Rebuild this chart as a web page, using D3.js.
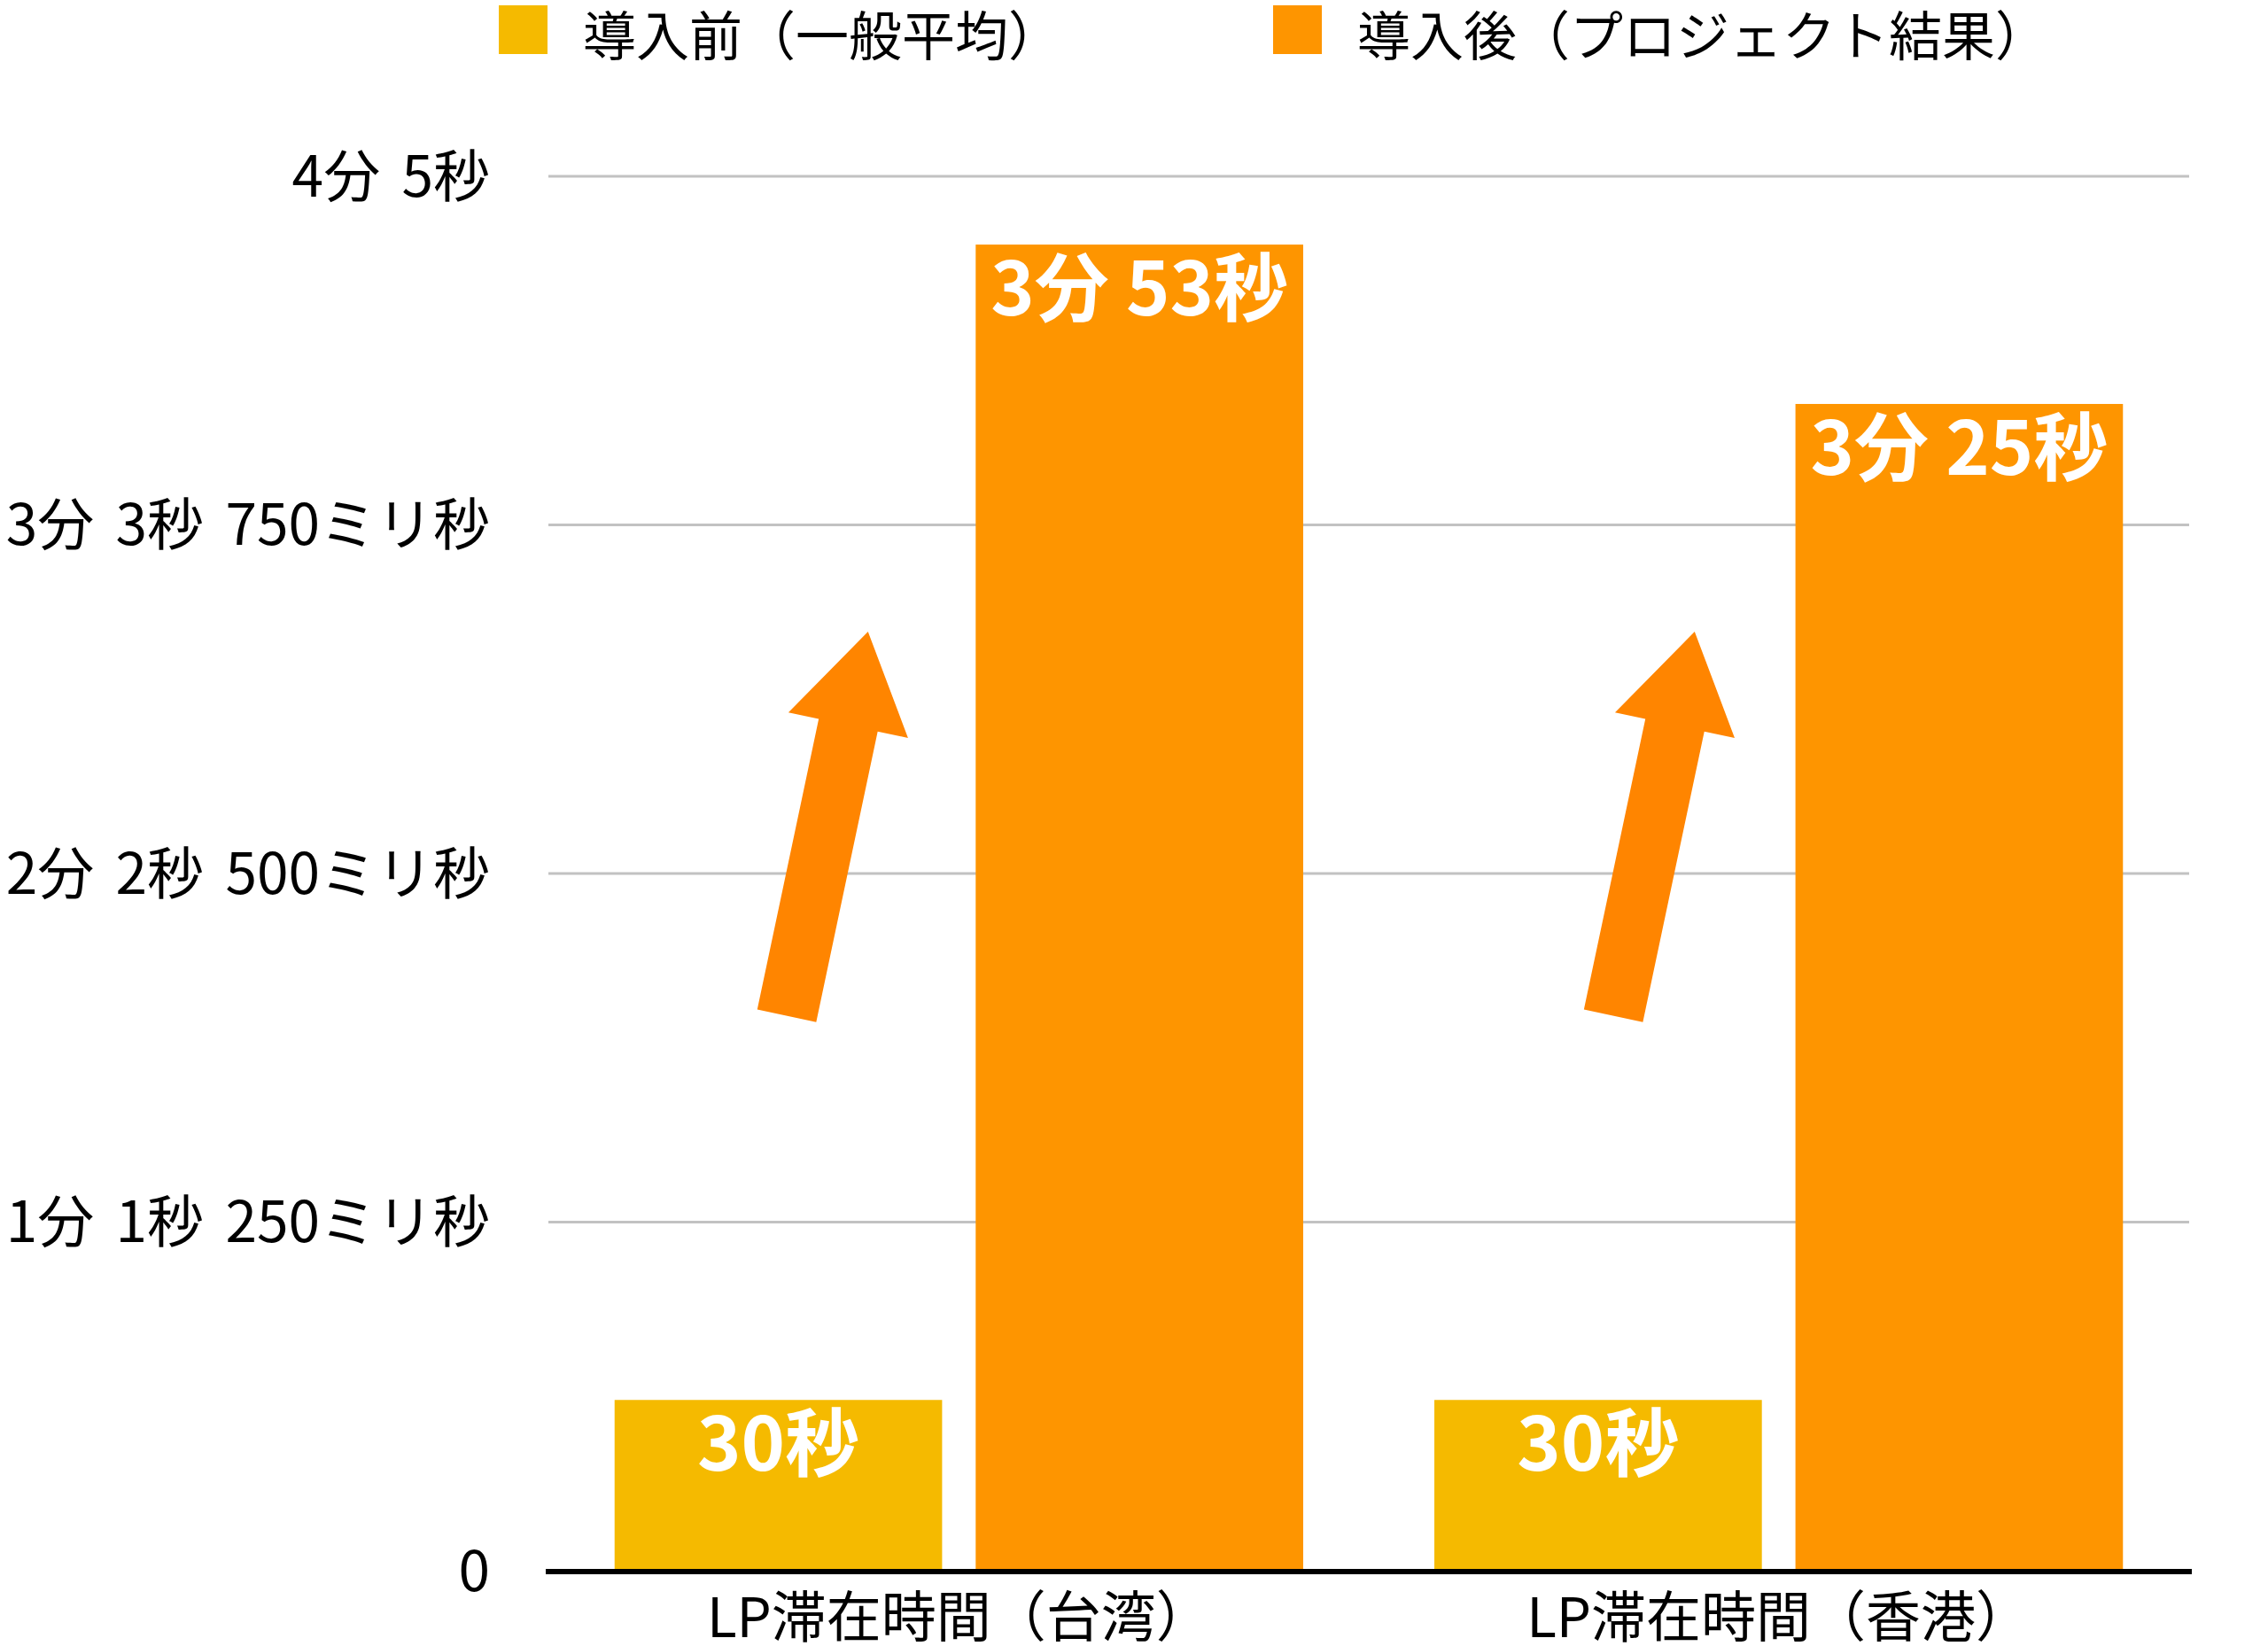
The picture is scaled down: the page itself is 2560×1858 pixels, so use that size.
<!DOCTYPE html>
<html><head><meta charset="utf-8">
<script src="https://cdn.jsdelivr.net/npm/d3@7"></script>
<style>
html,body{margin:0;padding:0;background:#fff;}
svg{display:block;}
text{font-family:"Noto Sans CJK JP","Noto Sans",sans-serif;}
</style></head>
<body>
<svg id="chart" width="2560" height="1858"></svg>
<script>
// ---- data ----
const categories = ["LP滞在時間（台湾）", "LP滞在時間（香港）"];
const seriesNames = ["導入前（一般平均）", "導入後（プロジェクト結果）"];
const beforeValues = [30, 30];        // seconds
const afterValues = [233, 205];       // seconds
const valueLabelsBefore = ["30秒", "30秒"];
const valueLabelsAfter = ["3分 53秒", "3分 25秒"];
const tickValues = [0, 61.25, 122.5, 183.75, 245];
const tickLabels = ["0", "1分 1秒 250ミリ秒", "2分 2秒 500ミリ秒", "3分 3秒 750ミリ秒", "4分 5秒"];
const arrowFrom = [97.5, 97.5];  // seconds (tail)
const arrowTo = [165, 165];      // seconds (tip)
const arrowTailPos = [0.25, 0.26];  // fraction across the category band
const arrowTipPos = [0.368, 0.378];

const colors = ["#F5BA00", "#FE9500"];
const arrowColor = "#FF8500";

(function () {
const svg = d3.select("#chart");
const plotL = 616, plotR = 2474, plotT = 199, plotB = 1773;

const x0 = d3.scaleBand().domain(categories).range([plotL, plotR]).paddingInner(0.16).paddingOuter(0.084);
const x1 = d3.scaleBand().domain([0, 1]).range([0, x0.bandwidth()]).paddingInner(0.093).paddingOuter(0);
const y = d3.scaleLinear().domain([0, 245]).range([plotB, plotT]);

// gridlines
svg.append("g").selectAll("line").data(tickValues.filter(d => d > 0)).join("line")
  .attr("x1", plotL + 3).attr("x2", plotR - 3)
  .attr("y1", d => y(d)).attr("y2", d => y(d))
  .attr("stroke", "#c2c2c2").attr("stroke-width", 3);

const yAxis = d3.axisLeft(y).tickValues(tickValues).tickSize(0).tickPadding(0).tickFormat((d, i) => tickLabels[i]);
const gy = svg.append("g").attr("transform", `translate(${plotL - 63},0)`).call(yAxis);
gy.select(".domain").remove();
gy.selectAll("text").attr("font-size", 64).attr("fill", "#000").attr("font-family", "Noto Sans CJK JP")
  .attr("word-spacing", 10).attr("dy", "0.35em");

// bars
const data = categories.map((c, i) => ({c, vals: [beforeValues[i], afterValues[i]], labels: [valueLabelsBefore[i], valueLabelsAfter[i]]}));
const groups = svg.append("g").selectAll("g").data(data).join("g")
  .attr("transform", d => `translate(${x0(d.c)},0)`);
groups.selectAll("rect").data(d => d.vals.map((v, k) => ({v, k}))).join("rect")
  .attr("x", d => x1(d.k)).attr("width", x1.bandwidth())
  .attr("y", d => y(d.v)).attr("height", d => y(0) - y(d.v))
  .attr("fill", d => colors[d.k]);
groups.selectAll("text.val").data(d => d.vals.map((v, k) => ({v, k, t: d.labels[k]}))).join("text")
  .attr("class", "val")
  .attr("x", d => x1(d.k) + x1.bandwidth() / 2)
  .attr("y", d => y(d.v) + 80)
  .attr("text-anchor", "middle").attr("font-size", 84).attr("font-weight", "bold")
  .attr("fill", "#fff").text(d => d.t);

// arrows
function arrowPath(xa, ya, xb, yb, sw, hw, hl) {
  const dx = xb - xa, dy = yb - ya, L = Math.hypot(dx, dy);
  const ux = dx / L, uy = dy / L, nx = -uy, ny = ux;
  const bx = xb - ux * hl, by = yb - uy * hl;
  const p = [
    [xa + nx * sw / 2, ya + ny * sw / 2],
    [bx + nx * sw / 2, by + ny * sw / 2],
    [bx + nx * hw / 2, by + ny * hw / 2],
    [xb, yb],
    [bx - nx * hw / 2, by - ny * hw / 2],
    [bx - nx * sw / 2, by - ny * sw / 2],
    [xa - nx * sw / 2, ya - ny * sw / 2]
  ];
  return "M" + p.map(q => q.join(",")).join("L") + "Z";
}
svg.append("g").selectAll("path").data(categories).join("path")
  .attr("d", (c, i) => arrowPath(x0(c) + x0.bandwidth() * arrowTailPos[i], y(arrowFrom[i]),
                                 x0(c) + x0.bandwidth() * arrowTipPos[i], y(arrowTo[i]), 68, 138, 108))
  .attr("fill", arrowColor);

// baseline axis
svg.append("line").attr("x1", plotL).attr("x2", plotR).attr("y1", y(0) + 1).attr("y2", y(0) + 1)
  .attr("stroke", "#000").attr("stroke-width", 6);

// category labels
const xAxis = d3.axisBottom(x0).tickSize(0).tickPadding(0);
const gx = svg.append("g").attr("transform", `translate(0,${plotB})`).call(xAxis);
gx.select(".domain").remove();
gx.selectAll("text").attr("font-size", 62).attr("fill", "#000").attr("font-family", "Noto Sans CJK JP").attr("y", 75).attr("dy", 0);

// legend
const legendX = [563, 1437];
const lg = svg.append("g").selectAll("g").data(seriesNames).join("g")
  .attr("transform", (d, i) => `translate(${legendX[i]},6)`);
lg.append("rect").attr("width", 55).attr("height", 55).attr("fill", (d, i) => colors[i]);
lg.append("text").attr("x", 95).attr("y", 57).attr("font-size", 60).attr("fill", "#000").text(d => d);
})();
</script>
</body></html>
